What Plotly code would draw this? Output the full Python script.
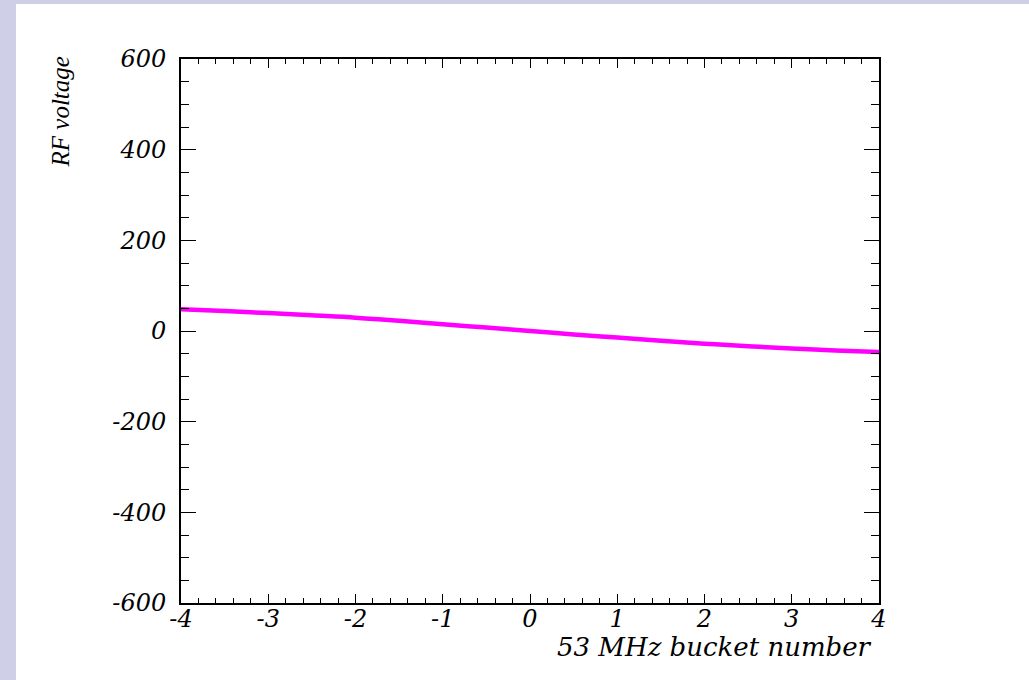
import plotly.graph_objects as go

# RF voltage seen across the 53 MHz buckets
bucket = [-4.0, -3.5, -3.0, -2.5, -2.0, -1.5, -1.0, -0.5, 0.0,
          0.5, 1.0, 1.5, 2.0, 2.5, 3.0, 3.5, 4.0]
rf_voltage = [48.0, 44.0, 39.5, 34.5, 29.5, 22.5, 15.0, 7.5, 0.0,
              -7.5, -14.5, -21.5, -28.0, -33.5, -38.5, -43.0, -46.5]

x_ticks = [-4, -3, -2, -1, 0, 1, 2, 3, 4]
y_ticks = [-600, -400, -200, 0, 200, 400, 600]

W, H = 1029, 680
L, R, T, B = 181, 150, 59, 77
pw, ph = W - L - R, H - T - B

def px(xp):
    return (xp - L) / pw

def py(yp):
    return (H - B - yp) / ph

FONT = dict(family="DejaVu Serif", size=24, color="black", style="italic")
TFONT = dict(family="DejaVu Serif", size=26, color="black", style="italic")
VFONT = dict(family="Liberation Serif", size=25, color="black", style="italic")
LAV = "#CFCFE8"

fig = go.Figure(
    go.Scatter(
        x=bucket, y=rf_voltage, mode="lines",
        line=dict(color="#FF00FF", width=4.5, shape="spline"),
        showlegend=False, hoverinfo="skip",
    )
)

axis_common = dict(
    showgrid=False, zeroline=False, showline=True,
    linecolor="black", linewidth=2, mirror="ticks",
    ticks="inside", tickcolor="black", tickwidth=1,
    tickfont=FONT,
)

fig.update_xaxes(
    range=[-4, 4], tickvals=x_ticks,
    ticktext=[f"<i>{v}</i>" for v in x_ticks],
    ticklen=9, ticklabelstandoff=-7,
    minor=dict(dtick=0.2, tick0=0, ticks="inside", ticklen=5,
               tickcolor="black", tickwidth=1),
    **axis_common,
)
fig.update_yaxes(
    range=[-600, 600], tickvals=y_ticks,
    ticktext=[f"<i>{v}</i>" for v in y_ticks],
    ticklen=15, ticklabelstandoff=8,
    minor=dict(dtick=50, tick0=0, ticks="inside", ticklen=8,
               tickcolor="black", tickwidth=1),
    **axis_common,
)

shapes = [
    # lavender frame strips along the left and top edges
    dict(type="rect", xref="paper", yref="paper", layer="below",
         x0=px(0), x1=px(16), y0=py(H), y1=py(0),
         fillcolor=LAV, line=dict(width=0)),
    dict(type="rect", xref="paper", yref="paper", layer="below",
         x0=px(0), x1=px(W), y0=py(4), y1=py(0),
         fillcolor=LAV, line=dict(width=0)),
]

annotations = [
    dict(text="<i>53 MHz bucket number</i>", xref="paper", yref="paper",
         x=px(874), y=py(647), xanchor="right", yanchor="middle",
         showarrow=False, font=TFONT),
    dict(text="<i>RF voltage</i>", xref="paper", yref="paper", textangle=-90,
         x=px(60), y=py(55), xanchor="center", yanchor="top",
         showarrow=False, font=VFONT),
]

fig.update_layout(
    width=W, height=H,
    margin=dict(l=L, r=R, t=T, b=B, pad=0),
    paper_bgcolor="white", plot_bgcolor="white",
    shapes=shapes, annotations=annotations,
)

fig.write_html("out.html")
